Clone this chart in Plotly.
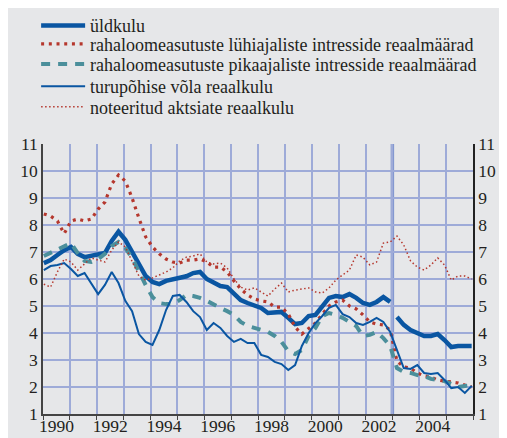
import plotly.graph_objects as go

# quarterly observations, 1990 Q1 ... 2005 Q4
quarters = [f"{y}Q{q}" for y in range(1990, 2006) for q in range(1, 5)]

uldkulu = [6.59, 6.70, 6.89, 7.07, 7.19, 6.93, 6.81, 6.85, 6.93, 6.96,
           7.41, 7.75, 7.45, 7.00, 6.56, 6.11, 5.89, 5.81, 5.93, 6.00,
           6.07, 6.10, 6.22, 6.26, 6.00, 5.85, 5.74, 5.70, 5.44, 5.22,
           5.11, 5.00, 4.93, 4.74, 4.78, 4.78, 4.56, 4.33, 4.37, 4.63,
           4.67, 5.00, 5.30, 5.37, 5.33, 5.44, 5.30, 5.11, 5.04, 5.15,
           5.33, 5.15, 4.59, 4.30, 4.11, 4.00, 3.89, 3.89, 3.96, 3.74,
           3.48, 3.52, 3.52, 3.52]

luhiajalised = [8.41, 8.33, 8.15, 7.68, 8.15, 8.22, 8.15, 8.22, 8.59, 8.85,
                9.52, 9.85, 9.63, 9.00, 8.26, 7.56, 7.19, 6.93, 6.74, 6.63,
                6.59, 6.70, 6.70, 6.74, 6.63, 6.44, 6.44, 6.26, 5.93, 5.63,
                5.41, 5.26, 5.19, 5.15, 4.96, 4.96, 4.70, 4.22, 3.96, 4.15,
                4.37, 4.70, 5.00, 5.15, 5.22, 5.00, 4.89, 4.67, 4.41, 4.33,
                4.30, 4.11, 2.96, 2.74, 2.70, 2.52, 2.41, 2.37, 2.26, 2.22,
                2.19, 2.15, 2.07, 2.00]

pikaajalised = [6.85, 6.96, 7.11, 7.22, 7.33, 6.96, 6.67, 6.63, 6.74, 6.93,
                7.22, 7.37, 7.15, 6.78, 6.26, 5.78, 5.33, 5.11, 5.07, 5.07,
                5.22, 5.41, 5.37, 5.30, 5.19, 5.04, 4.93, 4.81, 4.67, 4.41,
                4.26, 4.19, 4.11, 4.04, 3.89, 3.67, 3.33, 3.22, 3.37, 3.89,
                4.19, 4.63, 4.74, 4.67, 4.56, 4.41, 4.26, 3.89, 3.93, 4.04,
                3.81, 3.52, 2.70, 2.56, 2.52, 2.44, 2.41, 2.30, 2.26, 2.22,
                2.11, 2.00, 2.04, 2.07]

turupohine = [6.33, 6.48, 6.52, 6.59, 6.37, 6.11, 6.22, 5.85, 5.44, 5.78,
              6.26, 5.85, 5.19, 4.81, 3.96, 3.67, 3.56, 4.11, 4.85, 5.37,
              5.41, 5.15, 4.81, 4.59, 4.11, 4.37, 4.19, 3.89, 3.67, 3.78,
              3.63, 3.63, 3.19, 3.11, 2.93, 2.85, 2.63, 2.81, 3.52, 4.00,
              4.37, 4.63, 4.93, 5.04, 4.70, 4.59, 4.37, 4.30, 4.41, 4.56,
              4.41, 4.04, 3.33, 2.70, 2.67, 2.81, 2.52, 2.48, 2.52, 2.26,
              1.96, 2.00, 1.78, 2.04]

noteeritud = [5.81, 5.70, 6.26, 6.74, 6.63, 6.33, 6.56, 6.78, 6.70, 6.63,
              7.07, 7.37, 7.19, 6.63, 6.11, 5.96, 6.04, 6.15, 6.26, 6.41,
              6.67, 6.81, 6.85, 6.93, 6.63, 6.56, 6.59, 6.41, 6.00, 5.70,
              5.59, 5.67, 5.52, 5.37, 5.63, 5.85, 5.52, 5.59, 5.63, 5.67,
              5.52, 5.48, 5.67, 5.96, 6.15, 6.33, 6.89, 6.81, 6.52, 6.63,
              7.33, 7.37, 7.59, 7.26, 6.67, 6.44, 6.33, 6.52, 6.78, 6.52,
              5.96, 6.11, 6.11, 6.00]

year_labels = ["1990", "1992", "1994", "1996", "1998", "2000", "2002", "2004"]
y_ticks = list(range(1, 12))
break_quarter = "2003Q1"   # methodological break in üldkulu
names = ["üldkulu",
         "rahaloomeasutuste lühiajaliste intresside reaalmäärad",
         "rahaloomeasutuste pikaajaliste intresside reaalmäärad",
         "turupõhise võla reaalkulu",
         "noteeritud aktsiate reaalkulu"]

# numeric time positions for the quarters (spread across the 1990–2006 span)
n = len(quarters)
xq = [1990.03 + i * (15.92 / (n - 1)) for i in range(n)]

# üldkulu with a gap at the break
bi = quarters.index(break_quarter)
x_ul = xq[:bi] + [None] + xq[bi:]
y_ul = uldkulu[:bi] + [None] + uldkulu[bi:]

BLUE = "#0a56a2"
RED = "#b5372d"
TEAL = "#4b8f9b"
GRID = "#9eabd8"
BG = "#e6e7e9"
FONT = "Liberation Serif, Times New Roman, DejaVu Serif, serif"
LEG_KEYS = ["legend", "legend2", "legend3", "legend4", "legend5"]

fig = go.Figure()
fig.add_trace(go.Scatter(x=x_ul, y=y_ul, name=names[0], mode="lines", legend=LEG_KEYS[0],
                         line=dict(color=BLUE, width=4.5), connectgaps=False))
fig.add_trace(go.Scatter(x=xq, y=luhiajalised, name=names[1], mode="lines", legend=LEG_KEYS[1],
                         line=dict(color=RED, width=3.2, dash="3px,4.7px")))
fig.add_trace(go.Scatter(x=xq, y=pikaajalised, name=names[2], mode="lines", legend=LEG_KEYS[2],
                         line=dict(color=TEAL, width=4, dash="9px,8px")))
fig.add_trace(go.Scatter(x=xq, y=turupohine, name=names[3], mode="lines", legend=LEG_KEYS[3],
                         line=dict(color=BLUE, width=2)))
fig.add_trace(go.Scatter(x=xq, y=noteeritud, name=names[4], mode="lines", legend=LEG_KEYS[4],
                         line=dict(color=RED, width=1.5, dash="1.5px,2.5px")))
# anchor for right-hand axis
fig.add_trace(go.Scatter(x=[xq[0]], y=[uldkulu[0]], yaxis="y2", mode="markers",
                         marker=dict(opacity=0), showlegend=False, hoverinfo="skip"))

fig.add_shape(type="line", xref="x", yref="y domain", x0=2003, x1=2003, y0=0, y1=1,
              line=dict(color="#8398d0", width=3.5), layer="below")

legend_rows_y = [1.438, 1.370, 1.295, 1.213, 1.137]
legends = {}
for key, ly in zip(LEG_KEYS, legend_rows_y):
    legends[key] = dict(x=-0.016, y=ly, xanchor="left", yanchor="middle",
                        bgcolor="rgba(0,0,0,0)", font=dict(size=18, family=FONT,
                                                            color="#231f20"),
                        itemwidth=44)

fig.update_layout(
    width=507, height=438,
    margin=dict(l=35, r=42, t=136, b=32, autoexpand=False),
    paper_bgcolor=BG, plot_bgcolor=BG,
    font=dict(family=FONT, color="#231f20", size=17.5),
    showlegend=True,
    xaxis=dict(range=[1990, 2006], tickmode="array", automargin=False,
               tickvals=[int(s) + 0.5 for s in year_labels], ticktext=year_labels,
               ticks="", ticklabelstandoff=-5, showgrid=False, zeroline=False,
               showline=True, linecolor="#444", linewidth=1.5,
               minor=dict(tick0=1990, dtick=1, showgrid=True, gridcolor=GRID,
                          gridwidth=1.5, ticks="outside", ticklen=4,
                          tickcolor="#444", tickwidth=1.2),
               tickfont=dict(size=17.5, family=FONT)),
    yaxis=dict(range=[1, 11], tickvals=y_ticks, showgrid=True, gridcolor=GRID,
               gridwidth=1.5, zeroline=False, showline=True, linecolor="#444",
               automargin=False, linewidth=1.5, ticks="",
               tickfont=dict(size=17.5, family=FONT)),
    yaxis2=dict(range=[1, 11], tickvals=y_ticks, overlaying="y", side="right",
                showgrid=False, zeroline=False, showline=True, linecolor="#222",
                automargin=False, linewidth=1.5, ticks="",
                tickfont=dict(size=17.5, family=FONT)),
    **legends,
)

fig.write_html("out.html")
